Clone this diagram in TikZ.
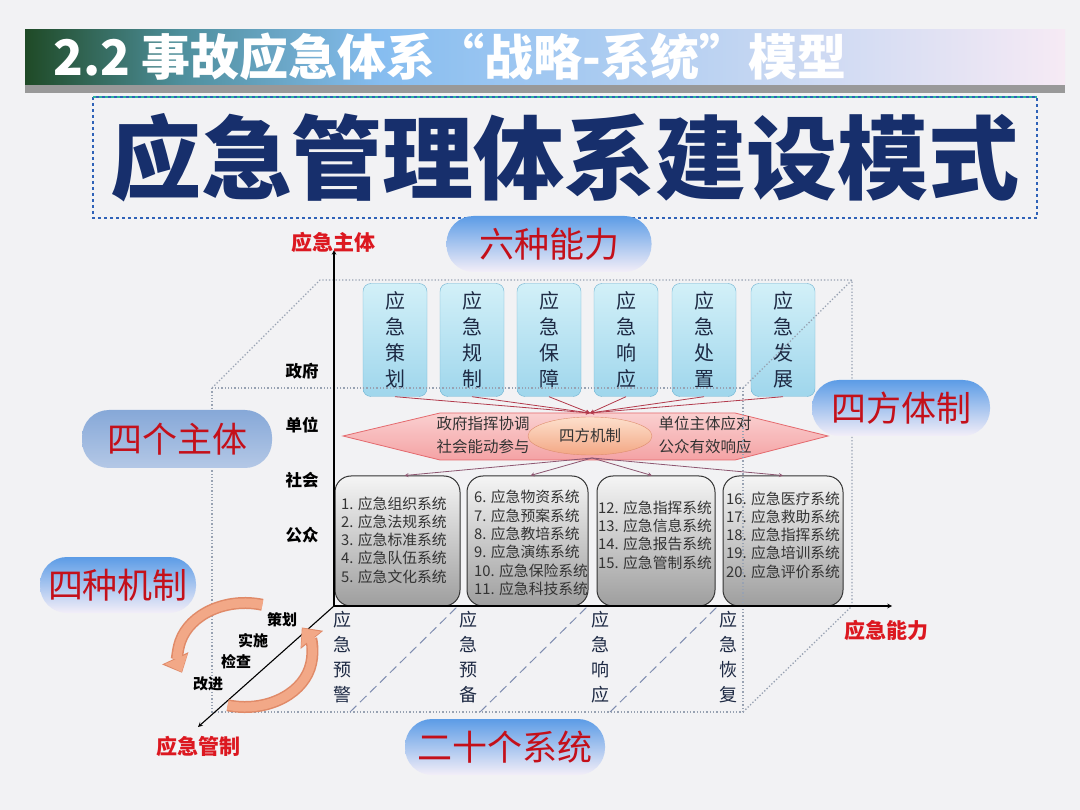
\documentclass[tikz,border=0pt]{standalone}
\usepackage{fontspec}
\setmainfont{Noto Sans CJK SC}
\usetikzlibrary{arrows.meta,shapes.geometric}
\definecolor{bgcol}{HTML}{F2F2F4}
\definecolor{hdgreen}{HTML}{1F4A26}
\definecolor{hdteal}{HTML}{4E8F9C}
\definecolor{hdblue}{HTML}{86BDF0}
\definecolor{hdpale}{HTML}{F6EAF4}
\definecolor{navy}{HTML}{172F6C}
\definecolor{tealdash}{HTML}{2DB39B}
\definecolor{bluedash}{HTML}{2F62B8}
\definecolor{redtxt}{HTML}{C4101A}
\definecolor{axisred}{HTML}{DC1820}
\definecolor{darktxt}{HTML}{1E2A44}
\definecolor{capfillA}{HTML}{D2F0F8}
\definecolor{capfillB}{HTML}{9FD6EC}
\definecolor{capedge}{HTML}{6FB3D2}
\definecolor{pinkA}{HTML}{FAD0D0}
\definecolor{pinkB}{HTML}{F4A2A4}
\definecolor{pinkedge}{HTML}{E46A6E}
\definecolor{peachA}{HTML}{FDE0CC}
\definecolor{peachB}{HTML}{F3A784}
\definecolor{peachedge}{HTML}{DE8E6E}
\definecolor{arrowred}{HTML}{B23A4C}
\definecolor{arrowplum}{HTML}{8C5670}
\definecolor{cubegray}{HTML}{98A2B2}
\definecolor{dashcol}{HTML}{7F8DB0}
\definecolor{blobtop}{HTML}{5C9CE6}
\definecolor{blobbot}{HTML}{F3EEF8}
\definecolor{subjtop}{HTML}{86A8D8}
\definecolor{subjbot}{HTML}{B4C8E6}
\definecolor{cyclecol}{HTML}{F2A887}
\definecolor{cycleedge}{HTML}{E08A68}
\begin{document}
\begin{tikzpicture}[x=1pt,y=1pt,>=stealth,
    abilitybox/.style={draw=capedge, rounded corners=8pt, top color=capfillA, bottom color=capfillB, minimum width=64pt, minimum height=113pt, inner sep=0pt, align=center, text=darktxt, font=\fontsize{20}{26}\selectfont},
    sysbox/.style={draw=black!80, line width=1pt, rounded corners=16pt, top color=black!4, bottom color=black!38, minimum height=130pt, inner sep=0pt},
    systext/.style={anchor=west, align=left, inner sep=0pt, text=black!80, font=\fontsize{14.8}{18.3}\selectfont},
    blob/.style={rounded corners=27pt, top color=blobtop, bottom color=blobbot, minimum height=56pt, text=redtxt, font=\fontsize{35}{35}\selectfont},
    axislbl/.style={text=axisred, font=\bfseries\fontsize{21}{21}\selectfont},
    subj/.style={font=\bfseries\fontsize{16.5}{16.5}\selectfont},
    stagelbl/.style={align=center, text=darktxt, font=\fontsize{18}{25}\selectfont, inner sep=0pt},
    cycletxt/.style={font=\bfseries\fontsize{15}{15}\selectfont},
    mechtxt/.style={text=black!80, font=\fontsize{15.5}{15.5}\selectfont},
    cube/.style={cubegray, dotted, line width=1.3pt},
    stagedash/.style={dashcol, dash pattern=on 9pt off 5pt, line width=1pt},
    flowin/.style={->, arrowred, line width=0.8pt},
    flowout/.style={->, arrowplum, line width=0.8pt},
    cycleback/.style={-{Triangle[length=16pt,width=28pt]}, line width=12pt, cycleedge},
    cyclearrow/.style={-{Triangle[length=14pt,width=24pt]}, line width=9pt, cyclecol}]
    \fill[bgcol] (0,0) rectangle (1080,-810);
    \useasboundingbox (0,0) rectangle (1080,-810);
    \shade[left color=hdgreen, right color=hdteal] (25,-30) rectangle (180.5,-85);
    \shade[left color=hdteal, right color=hdblue] (180,-30) rectangle (380.5,-85);
    \shade[left color=hdblue, right color=hdpale] (380,-30) rectangle (1065,-85);
    \fill[black!40] (25,-85) rectangle (1065,-93);
    \node[anchor=west, text=white, font=\bfseries\fontsize{49}{49}\selectfont] (hdr) at (50,-57) {2.2 事故应急体系“战略-系统”模型};
    \draw[bluedash, dashed, line width=1.4pt] (93,-97) rectangle (1037,-218);
    \draw[tealdash, dashed, line width=1.4pt] (93,-97) -- (1037,-97);
    \node[text=navy, font=\bfseries\fontsize{91}{91}\selectfont] (title) at (565,-158) {应急管理体系建设模式};
    \node[abilitybox] (c1) at (395,-340) {应\\急\\策\\划};
    \node[abilitybox] (c2) at (472,-340) {应\\急\\规\\制};
    \node[abilitybox] (c3) at (549,-340) {应\\急\\保\\障};
    \node[abilitybox] (c4) at (626,-340) {应\\急\\响\\应};
    \node[abilitybox] (c5) at (704,-340) {应\\急\\处\\置};
    \node[abilitybox] (c6) at (783,-340) {应\\急\\发\\展};
    \draw[pinkedge, top color=pinkA, bottom color=pinkB, line width=0.8pt] %
    (343,-436) -- (440,-413) -- (735,-413) -- (828,-436) -- (735,-460) -- (440,-460) -- cycle;
    \coordinate (hubin) at (590,-413);
    \coordinate (hubout) at (592,-458);
    \draw[flowin] (c1.south) -- (hubin);
    \draw[flowin] (c2.south) -- (hubin);
    \draw[flowin] (c3.south) -- (hubin);
    \draw[flowin] (c4.south) -- (hubin);
    \draw[flowin] (c5.south) -- (hubin);
    \draw[flowin] (c6.south) -- (hubin);
    \node[ellipse, draw=peachedge, top color=peachA, bottom color=peachB, minimum width=124pt, minimum height=38pt, text=black!80, font=\fontsize{15.5}{15.5}\selectfont] (hub) at (590,-436) {四方机制};
    \node[mechtxt] (m1) at (483,-424) {政府指挥协调};
    \node[mechtxt] (m2) at (483,-447) {社会能动参与};
    \node[mechtxt] (m3) at (705,-424) {单位主体应对};
    \node[mechtxt] (m4) at (705,-447) {公众有效响应};
    \node[sysbox, minimum width=125pt] (s1) at (397.5,-541) {};
    \node[sysbox, minimum width=121pt] (s2) at (527.5,-541) {};
    \node[sysbox, minimum width=118pt] (s3) at (656,-541) {};
    \node[sysbox, minimum width=120pt] (s4) at (783,-541) {};
    \node[systext] (t1) at (341,-540) {1. 应急组织系统\\2. 应急法规系统\\3. 应急标准系统\\4. 应急队伍系统\\5. 应急文化系统};
    \node[systext] (t2) at (474,-543) {6. 应急物资系统\\7. 应急预案系统\\8. 应急教培系统\\9. 应急演练系统\\10. 应急保险系统\\11. 应急科技系统};
    \node[systext] (t3) at (598,-535) {12. 应急指挥系统\\13. 应急信息系统\\14. 应急报告系统\\15. 应急管制系统};
    \node[systext] (t4) at (726,-535) {16. 应急医疗系统\\17. 应急救助系统\\18. 应急指挥系统\\19. 应急培训系统\\20. 应急评价系统};
    \draw[flowout] (hubout) -- ([xshift=7pt]s1.north);
    \draw[flowout] (hubout) -- ([xshift=3pt]s2.north);
    \draw[flowout] (hubout) -- ([xshift=-4pt]s3.north);
    \draw[flowout] (hubout) -- (s4.north);
    \draw[cube] (212,-388) -- (320,-280) -- (852,-280) -- (852,-606);
    \draw[cube] (743,-388) -- (852,-280);
    \draw[cube] (212,-388) rectangle (743,-712);
    \draw[cube] (743,-712) -- (852,-606);
    \draw[stagedash] (350,-712) -- (458,-606);
    \draw[stagedash] (480,-712) -- (588,-606);
    \draw[stagedash] (610,-712) -- (718,-606);
    \coordinate (O) at (334,-606);
    \coordinate (ytip) at (334,-250);
    \coordinate (xtip) at (892,-606);
    \coordinate (ztip) at (198,-727);
    \draw[->, line width=1.1pt] (O) -- (ytip);
    \draw[->, line width=1.1pt] (O) -- (xtip);
    \draw[->, line width=1.1pt] (O) -- (ztip);
    \node[axislbl] (ylbl) at (333,-242) {应急主体};
    \node[axislbl] (xlbl) at (886,-630) {应急能力};
    \node[axislbl] (zlbl) at (198,-746) {应急管制};
    \node[subj] (g1) at (302,-371) {政府};
    \node[subj] (g2) at (302,-425) {单位};
    \node[subj] (g3) at (302,-480) {社会};
    \node[subj] (g4) at (302,-535) {公众};
    \node[stagelbl] (st1) at (342,-657) {应\\急\\预\\警};
    \node[stagelbl] (st2) at (468,-657) {应\\急\\预\\备};
    \node[stagelbl] (st3) at (600,-657) {应\\急\\响\\应};
    \node[stagelbl] (st4) at (728,-657) {应\\急\\恢\\复};
    \node[blob, minimum width=205pt] (sixcap) at (549,-244) {六种能力};
    \node[blob, minimum width=190pt, minimum height=58pt, top color=subjtop, bottom color=subjbot] (foursubj) at (177,-439) {四个主体};
    \node[blob, minimum width=156pt] (fourmech) at (118,-585) {四种机制};
    \node[blob, minimum width=178pt] (fourinst) at (901,-408) {四方体制};
    \node[blob, minimum width=200pt] (twentysys) at (505,-747) {二十个系统};
    \draw[cycleback] (245,-655) ++(75:67 and 52) arc[start angle=75, end angle=200, x radius=67, y radius=52];
    \draw[cyclearrow] (245,-655) ++(75:67 and 52) arc[start angle=75, end angle=199, x radius=67, y radius=52];
    \draw[cycleback] (245,-655) ++(255:67 and 52) arc[start angle=255, end angle=392, x radius=67, y radius=52];
    \draw[cyclearrow] (245,-655) ++(255:67 and 52) arc[start angle=255, end angle=391, x radius=67, y radius=52];
    \node[cycletxt] (plan) at (282,-620) {策划};
    \node[cycletxt] (act) at (253,-641) {实施};
    \node[cycletxt] (check) at (236,-662) {检查};
    \node[cycletxt] (improve) at (208,-684) {改进};
\end{tikzpicture}
\end{document}
